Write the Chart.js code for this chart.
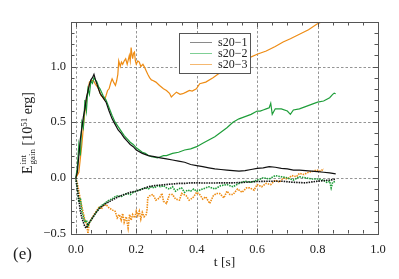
<!DOCTYPE html>
<html>
<head>
<meta charset="utf-8">
<script src="https://cdn.jsdelivr.net/npm/chart.js@4"></script>
<style>
html,body{margin:0;padding:0;background:#fff;}
#wrap{width:399px;height:279px;position:relative;}
</style>
</head>
<body>
<div id="wrap"><canvas id="c" width="399" height="279"></canvas></div>
<script>
// ---- data ----
const xTickLabels = [0.0, 0.2, 0.4, 0.6, 0.8, 1.0];
const yTickLabels = [-0.5, 0.0, 0.5, 1.0];
const seriesNames = ["s20\u22121", "s20\u22122", "s20\u22123"];

const t1pos = [0,0.005,0.01,0.015,0.02,0.025,0.03,0.035,0.04,0.045,0.05,0.055,0.06,0.065,0.07,0.075,0.08,0.09,0.1,0.11,0.12,0.13,0.14,0.15,0.16,0.17,0.18,0.19,0.2,0.22,0.24,0.26,0.28,0.3,0.32,0.34,0.36,0.38,0.4,0.42,0.44,0.46,0.48,0.5,0.52,0.54,0.56,0.58,0.6,0.62,0.64,0.66,0.68,0.7,0.72,0.74,0.76,0.78,0.8,0.82,0.84,0.86];
const e1pos = [0,0.05,0.2,0.35,0.45,0.55,0.62,0.72,0.78,0.84,0.88,0.9,0.93,0.88,0.84,0.8,0.76,0.72,0.68,0.6,0.53,0.48,0.43,0.4,0.36,0.33,0.3,0.28,0.25,0.22,0.2,0.19,0.18,0.17,0.16,0.15,0.14,0.12,0.11,0.1,0.09,0.08,0.075,0.07,0.065,0.06,0.065,0.075,0.085,0.09,0.1,0.095,0.085,0.08,0.07,0.07,0.065,0.06,0.055,0.05,0.045,0.035];

const t1neg = [0,0.005,0.01,0.015,0.02,0.025,0.03,0.035,0.04,0.05,0.06,0.07,0.08,0.09,0.1,0.12,0.14,0.16,0.18,0.2,0.22,0.24,0.26,0.28,0.3,0.32,0.34,0.36,0.38,0.4,0.44,0.48,0.52,0.56,0.6,0.64,0.68,0.72,0.76,0.8,0.84,0.86];
const e1neg = [0,-0.1,-0.2,-0.3,-0.36,-0.4,-0.44,-0.45,-0.42,-0.38,-0.34,-0.3,-0.27,-0.25,-0.23,-0.2,-0.17,-0.15,-0.13,-0.12,-0.1,-0.08,-0.07,-0.065,-0.06,-0.055,-0.05,-0.05,-0.045,-0.045,-0.047,-0.045,-0.045,-0.04,-0.033,-0.03,-0.03,-0.04,-0.045,-0.03,-0.02,-0.012];

const t2pos = [0,0.005,0.01,0.015,0.02,0.025,0.03,0.035,0.04,0.045,0.05,0.055,0.06,0.065,0.07,0.075,0.08,0.09,0.1,0.11,0.12,0.13,0.14,0.15,0.16,0.17,0.18,0.19,0.2,0.21,0.22,0.23,0.24,0.25,0.26,0.27,0.28,0.29,0.3,0.32,0.34,0.36,0.38,0.4,0.42,0.44,0.46,0.48,0.5,0.52,0.54,0.56,0.58,0.6,0.61,0.62,0.63,0.64,0.645,0.65,0.66,0.68,0.7,0.71,0.72,0.74,0.76,0.78,0.8,0.82,0.84,0.85,0.855,0.86];
const e2pos = [0,0.1,0.3,0.2,0.5,0.45,0.7,0.6,0.8,0.75,0.87,0.85,0.9,0.88,0.86,0.82,0.8,0.74,0.7,0.63,0.56,0.5,0.46,0.42,0.38,0.35,0.32,0.3,0.27,0.25,0.23,0.22,0.2,0.19,0.185,0.18,0.19,0.2,0.2,0.22,0.23,0.25,0.26,0.28,0.31,0.34,0.37,0.41,0.45,0.5,0.53,0.55,0.57,0.6,0.6,0.61,0.62,0.63,0.67,0.57,0.62,0.62,0.6,0.57,0.61,0.62,0.64,0.66,0.68,0.69,0.72,0.75,0.76,0.755];

const t2neg = [0,0.005,0.01,0.015,0.02,0.025,0.03,0.035,0.04,0.045,0.05,0.06,0.07,0.08,0.09,0.1,0.11,0.12,0.13,0.14,0.15,0.16,0.17,0.18,0.19,0.2,0.21,0.22,0.23,0.24,0.25,0.26,0.27,0.28,0.29,0.3,0.31,0.32,0.33,0.34,0.35,0.36,0.37,0.38,0.39,0.4,0.42,0.44,0.46,0.48,0.5,0.52,0.54,0.56,0.58,0.6,0.62,0.64,0.66,0.68,0.7,0.72,0.74,0.76,0.78,0.8,0.82,0.83,0.84,0.845,0.85,0.86];
const e2neg = [0,-0.1,-0.22,-0.18,-0.3,-0.35,-0.4,-0.38,-0.43,-0.4,-0.38,-0.34,-0.3,-0.26,-0.24,-0.22,-0.2,-0.19,-0.17,-0.16,-0.17,-0.15,-0.14,-0.15,-0.13,-0.12,-0.11,-0.1,-0.09,-0.1,-0.08,-0.09,-0.07,-0.08,-0.07,-0.09,-0.1,-0.08,-0.12,-0.1,-0.09,-0.13,-0.11,-0.12,-0.1,-0.12,-0.1,-0.08,-0.1,-0.07,-0.06,-0.08,-0.05,-0.03,-0.04,-0.02,0.0,-0.01,0.02,0.01,0.0,-0.02,0.01,0.0,-0.01,-0.01,-0.02,-0.04,-0.03,-0.09,-0.04,-0.03];

const t3pos = [0,0.01,0.02,0.028,0.035,0.045,0.052,0.059,0.065,0.072,0.078,0.083,0.09,0.095,0.1,0.105,0.11,0.115,0.12,0.125,0.131,0.135,0.139,0.142,0.147,0.151,0.155,0.16,0.165,0.17,0.177,0.18,0.183,0.186,0.188,0.191,0.194,0.197,0.2,0.205,0.21,0.215,0.222,0.228,0.233,0.238,0.244,0.25,0.255,0.265,0.277,0.29,0.3,0.31,0.316,0.325,0.333,0.345,0.354,0.365,0.376,0.385,0.399,0.41,0.43,0.454,0.47,0.49,0.52,0.54,0.56,0.575,0.6,0.63,0.66,0.686,0.71,0.74,0.77,0.797,0.82,0.84];
const e3pos = [0,0.05,0.3,0.55,0.7,0.86,0.875,0.87,0.84,0.815,0.78,0.74,0.72,0.7,0.74,0.785,0.8,0.85,0.89,0.86,0.83,0.87,0.93,1.05,1.0,1.04,1.02,1.05,1.07,1.02,1.1,1.05,1.17,1.1,1.07,1.12,1.13,1.05,1.02,1.05,1.04,1.0,1.02,0.99,0.96,0.93,0.9,0.88,0.875,0.86,0.83,0.8,0.785,0.76,0.726,0.75,0.77,0.75,0.756,0.77,0.785,0.78,0.8,0.845,0.86,0.9,0.93,0.96,1.01,1.04,1.06,1.08,1.11,1.14,1.18,1.22,1.25,1.29,1.33,1.38,1.41,1.44];

const t3neg = [0,0.005,0.01,0.015,0.02,0.025,0.03,0.036,0.04,0.045,0.05,0.06,0.07,0.078,0.085,0.09,0.1,0.11,0.122,0.13,0.137,0.144,0.15,0.155,0.16,0.167,0.173,0.178,0.183,0.188,0.195,0.2,0.205,0.21,0.215,0.22,0.226,0.233,0.236,0.238,0.245,0.255,0.265,0.277,0.285,0.29,0.3,0.31,0.32,0.33,0.343,0.35,0.365,0.375,0.387,0.4,0.41,0.42,0.43,0.443,0.455,0.465,0.476,0.49,0.5,0.51,0.52,0.535,0.55,0.565,0.575,0.59,0.6,0.615,0.63,0.645,0.66,0.675,0.686,0.7,0.715,0.73,0.74,0.755,0.77,0.785,0.797,0.81,0.82];
const e3neg = [0,-0.05,-0.12,-0.2,-0.26,-0.32,-0.38,-0.42,-0.5,-0.4,-0.38,-0.33,-0.29,-0.26,-0.28,-0.25,-0.24,-0.27,-0.29,-0.3,-0.36,-0.33,-0.38,-0.32,-0.4,-0.35,-0.45,-0.33,-0.38,-0.33,-0.36,-0.3,-0.34,-0.3,-0.37,-0.31,-0.35,-0.33,-0.28,-0.18,-0.16,-0.15,-0.2,-0.18,-0.14,-0.21,-0.23,-0.15,-0.15,-0.19,-0.2,-0.14,-0.16,-0.2,-0.18,-0.13,-0.15,-0.19,-0.17,-0.23,-0.16,-0.14,-0.14,-0.18,-0.12,-0.15,-0.15,-0.1,-0.13,-0.09,-0.09,-0.11,-0.06,-0.08,-0.05,-0.06,-0.02,-0.04,0.0,-0.01,0.02,0.01,0.04,0.03,0.05,0.06,0.07,0.06,0.08];

// ---- styling ----
const COLORS = ["#111111", "#1f9e3a", "#ee8c14"];
const LEGEND_COLORS = ["#8a8a8a", "#7fcf95", "#f5b870"];
const SERIF = "'Liberation Serif', 'DejaVu Serif', serif";

function pts(t, e) { return t.map((v, i) => ({x: v, y: e[i]})); }
function ds(label, t, e, color, neg, legend) {
  return {
    label: label, data: pts(t, e), borderColor: color, backgroundColor: color,
    borderWidth: neg ? 1.6 : 1.2, borderDash: neg ? [1.5, 1] : [],
    pointRadius: 0, tension: 0, fill: false, showLegend: legend
  };
}

const datasets = [
  ds(seriesNames[0], t1pos, e1pos, COLORS[0], false, true),
  ds(seriesNames[1], t2pos, e2pos, COLORS[1], false, true),
  ds(seriesNames[2], t3pos, e3pos, COLORS[2], false, true),
  ds(seriesNames[0] + " neg", t1neg, e1neg, COLORS[0], true, false),
  ds(seriesNames[1] + " neg", t2neg, e2neg, COLORS[1], true, false),
  ds(seriesNames[2] + " neg", t3neg, e3neg, COLORS[2], true, false)
];

const framePlugin = {
  id: 'frame',
  beforeDatasetsDraw(chart) {
    const {ctx, chartArea: a, scales: {x, y}} = chart;
    ctx.save();
    ctx.strokeStyle = '#7a7a7a';
    ctx.lineWidth = 0.8;
    ctx.setLineDash([2.5, 2]);
    xTickLabels.forEach(v => {
      const px = Math.round(x.getPixelForValue(v)) + 0.5;
      ctx.beginPath(); ctx.moveTo(px, a.top); ctx.lineTo(px, a.bottom); ctx.stroke();
    });
    yTickLabels.forEach(v => {
      const py = Math.round(y.getPixelForValue(v)) + 0.5;
      ctx.beginPath(); ctx.moveTo(a.left, py); ctx.lineTo(a.right, py); ctx.stroke();
    });
    ctx.restore();
  },
  afterDraw(chart) {
    const {ctx, chartArea: a, scales: {x, y}} = chart;
    ctx.save();
    // frame
    ctx.strokeStyle = '#555';
    ctx.lineWidth = 1;
    ctx.setLineDash([]);
    ctx.strokeRect(Math.round(a.left) + 0.5, Math.round(a.top) + 0.5, Math.round(a.right - a.left), Math.round(a.bottom - a.top));
    // minor/major ticks (inward) on all four sides
    ctx.beginPath();
    for (let i = 0; i <= 20; i++) {
      const v = i * 0.05;
      const px = Math.round(x.getPixelForValue(v)) + 0.5;
      const L = (i % 4 === 0) ? 5 : 3.5;
      ctx.moveTo(px, a.bottom); ctx.lineTo(px, a.bottom - L);
      ctx.moveTo(px, a.top); ctx.lineTo(px, a.top + L);
    }
    for (let i = -5; i <= 14; i++) {
      const v = i * 0.1;
      const py = Math.round(y.getPixelForValue(v)) + 0.5;
      if (py < a.top || py > a.bottom + 1) continue;
      const L = (i % 5 === 0) ? 5 : 3.5;
      ctx.moveTo(a.left, py); ctx.lineTo(a.left + L, py);
      ctx.moveTo(a.right, py); ctx.lineTo(a.right - L, py);
    }
    ctx.stroke();

    // legend box
    const bx = 179.5, by = 33.5, bw = 71, bh = 40;
    ctx.fillStyle = '#fff';
    ctx.fillRect(bx, by, bw, bh);
    ctx.strokeStyle = '#555';
    ctx.strokeRect(bx, by, bw, bh);
    ctx.font = '12px ' + SERIF;
    ctx.textBaseline = 'middle';
    ctx.textAlign = 'left';
    chart.data.datasets.filter(d => d.showLegend).forEach((d, i) => {
      const ry = 42.5 + i * 11;
      ctx.strokeStyle = LEGEND_COLORS[i];
      ctx.lineWidth = 1;
      ctx.beginPath(); ctx.moveTo(190, ry); ctx.lineTo(212, ry); ctx.stroke();
      ctx.fillStyle = '#222';
      ctx.fillText(d.label, 218, ry + 0.5);
    });

    // x axis title
    ctx.fillStyle = '#222';
    ctx.font = '13.5px ' + SERIF;
    ctx.textAlign = 'center';
    ctx.textBaseline = 'alphabetic';
    ctx.fillText('t [s]', (a.left + a.right) / 2, 266);
    // panel label
    ctx.font = '17px ' + SERIF;
    ctx.textAlign = 'left';
    ctx.fillText('(e)', 13, 259);

    // y axis title with sub/superscripts
    const F = 14, f = 9;
    const parts = [
      {txt: 'E', size: F, dy: 0},
      {stack: true, sup: 'int', sub: 'gain'},
      {txt: ' [10', size: F, dy: 0},
      {txt: '51', size: f, dy: -5.5},
      {txt: ' erg]', size: F, dy: 0}
    ];
    let total = 0;
    parts.forEach(p => {
      if (p.stack) {
        ctx.font = f + 'px ' + SERIF;
        p.w = Math.max(ctx.measureText(p.sup).width, ctx.measureText(p.sub).width) + 1;
      } else {
        ctx.font = p.size + 'px ' + SERIF;
        p.w = ctx.measureText(p.txt).width;
      }
      total += p.w;
    });
    ctx.translate(32, 133);
    ctx.rotate(-Math.PI / 2);
    let cx = -total / 2;
    parts.forEach(p => {
      if (p.stack) {
        ctx.font = f + 'px ' + SERIF;
        ctx.fillText(p.sup, cx + 1, -6);
        ctx.fillText(p.sub, cx + 1, 3);
      } else {
        ctx.font = p.size + 'px ' + SERIF;
        ctx.fillText(p.txt, cx, p.dy);
      }
      cx += p.w;
    });
    ctx.restore();
  }
};

new Chart(document.getElementById('c'), {
  type: 'line',
  data: {datasets: datasets},
  options: {
    responsive: false,
    animation: false,
    events: [],
    layout: {padding: {left: 0, right: 21, top: 22, bottom: 0}},
    plugins: {legend: {display: false}, tooltip: {enabled: false}},
    scales: {
      x: {
        type: 'linear', min: -0.016, max: 1.0,
        afterBuildTicks: s => { s.ticks = xTickLabels.map(v => ({value: v})); },
        afterFit: s => { s.height = 45.5; },
        grid: {display: false, drawTicks: false},
        border: {display: false},
        ticks: {
          padding: 9, color: '#222', maxRotation: 0, autoSkip: false,
          font: {family: SERIF, size: 12.5},
          callback: v => Number(v).toFixed(1)
        }
      },
      y: {
        type: 'linear', min: -0.5, max: 1.40,
        afterBuildTicks: s => { s.ticks = yTickLabels.map(v => ({value: v})); },
        afterFit: s => { s.width = 71; },
        grid: {display: false, drawTicks: false},
        border: {display: false},
        ticks: {
          padding: 5, color: '#222', autoSkip: false,
          font: {family: SERIF, size: 12.5},
          callback: v => (v < 0 ? '\u2212' : '') + Math.abs(Number(v)).toFixed(1)
        }
      }
    }
  },
  plugins: [framePlugin]
});
</script>
</body>
</html>
